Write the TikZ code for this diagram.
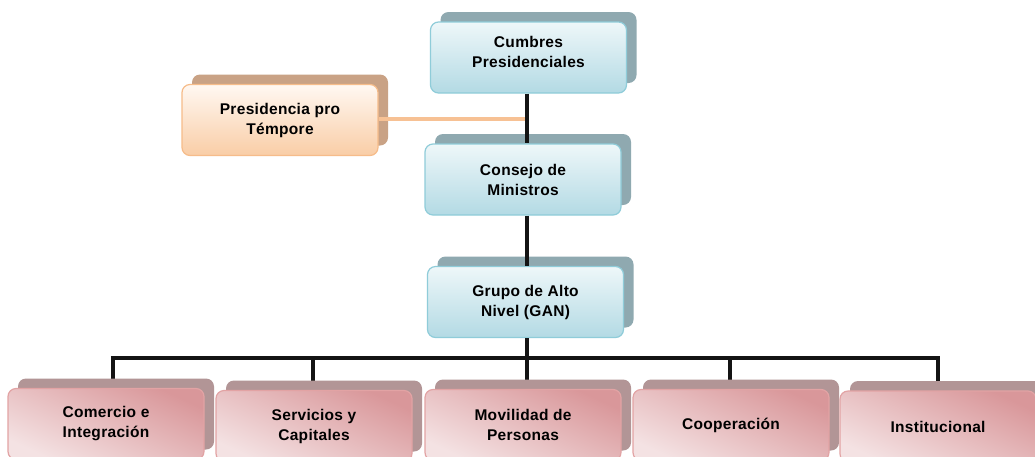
\documentclass[tikz,border=0pt]{standalone}
\usepackage{fontspec}
\setmainfont{Liberation Sans}[LetterSpace=2]
\usetikzlibrary{shadows}
\definecolor{blueT}{HTML}{EEF7F9}
\definecolor{blueB}{HTML}{B3DAE4}
\definecolor{blueE}{HTML}{8FCCD9}
\definecolor{blueS}{HTML}{8FA9B0}
\definecolor{orT}{HTML}{FFF8F2}
\definecolor{orB}{HTML}{F9CDA6}
\definecolor{orE}{HTML}{F6BC8A}
\definecolor{orS}{HTML}{C9A285}
\definecolor{orL}{HTML}{F7C194}
\definecolor{pkL}{HTML}{F4E2E3}
\definecolor{pkD}{HTML}{D9979A}
\definecolor{pkE}{HTML}{E2A3A4}
\definecolor{pkS}{HTML}{B29596}
\begin{document}
\begin{tikzpicture}[x=1pt,y=-1pt,
  box/.style={rounded corners=8pt, minimum width=196pt, minimum height=71pt,
    line width=1.2pt, align=center, inner sep=2pt,
    font=\fontsize{15.5}{20}\selectfont\bfseries},
  bluebox/.style={box, draw=blueE, top color=blueT, bottom color=blueB,
    general shadow={shadow xshift=10pt, shadow yshift=10pt, fill=blueS, draw=none}},
  orbox/.style={box, draw=orE, top color=orT, bottom color=orB,
    general shadow={shadow xshift=10pt, shadow yshift=10pt, fill=orS, draw=none}},
  pkbox/.style={box, draw=pkE, top color=pkD, bottom color=pkL, shading angle=-25,
    general shadow={shadow xshift=10pt, shadow yshift=10pt, fill=pkS, draw=none}},
  conn/.style={line width=4.5pt, draw=black!92},
  orconn/.style={line width=4pt, draw=orL}]
\clip (0,0) rectangle (1035,456);
\fill[white] (0,0) rectangle (1035,456);
\coordinate (bus) at (527,358);
\coordinate (d1) at (113,392);
\coordinate (d2) at (313,392);
\coordinate (d3) at (527,392);
\coordinate (d4) at (730,392);
\coordinate (d5) at (938,392);
\coordinate (j) at (527,119);
\node[bluebox, text depth=11pt] (cum) at (528.5,57.5) {Cumbres\\Presidenciales};
\node[orbox] (pre) at (280,120) {Presidencia pro\\Témpore};
\node[bluebox] (con) at (523,179.5) {Consejo de\\Ministros};
\node[bluebox] (gan) at (525.5,302) {Grupo de Alto\\Nivel (GAN)};
\draw[conn] (cum.south -| j) -- (con.north -| j);
\draw[orconn] (pre.east |- j) -- ([xshift=-2pt]j);
\draw[conn] (con.south -| j) -- (gan.north -| j);
\draw[conn] (gan.south -| bus) -- (bus);
\draw[conn] ([xshift=-2.25pt]bus -| d1) -- ([xshift=2.25pt]bus -| d5);
\foreach \d in {d1,d2,d3,d4,d5} \draw[conn] (bus -| \d) -- (\d);
\node[pkbox] (com) at (106,424) {Comercio e\\Integración};
\node[pkbox] (ser) at (314,426) {Servicios y\\Capitales};
\node[pkbox] (mov) at (523,425) {Movilidad de\\Personas};
\node[pkbox] (coo) at (731,425) {Cooperación};
\node[pkbox] (ins) at (938,426.5) {Institucional};
\end{tikzpicture}
\end{document}
